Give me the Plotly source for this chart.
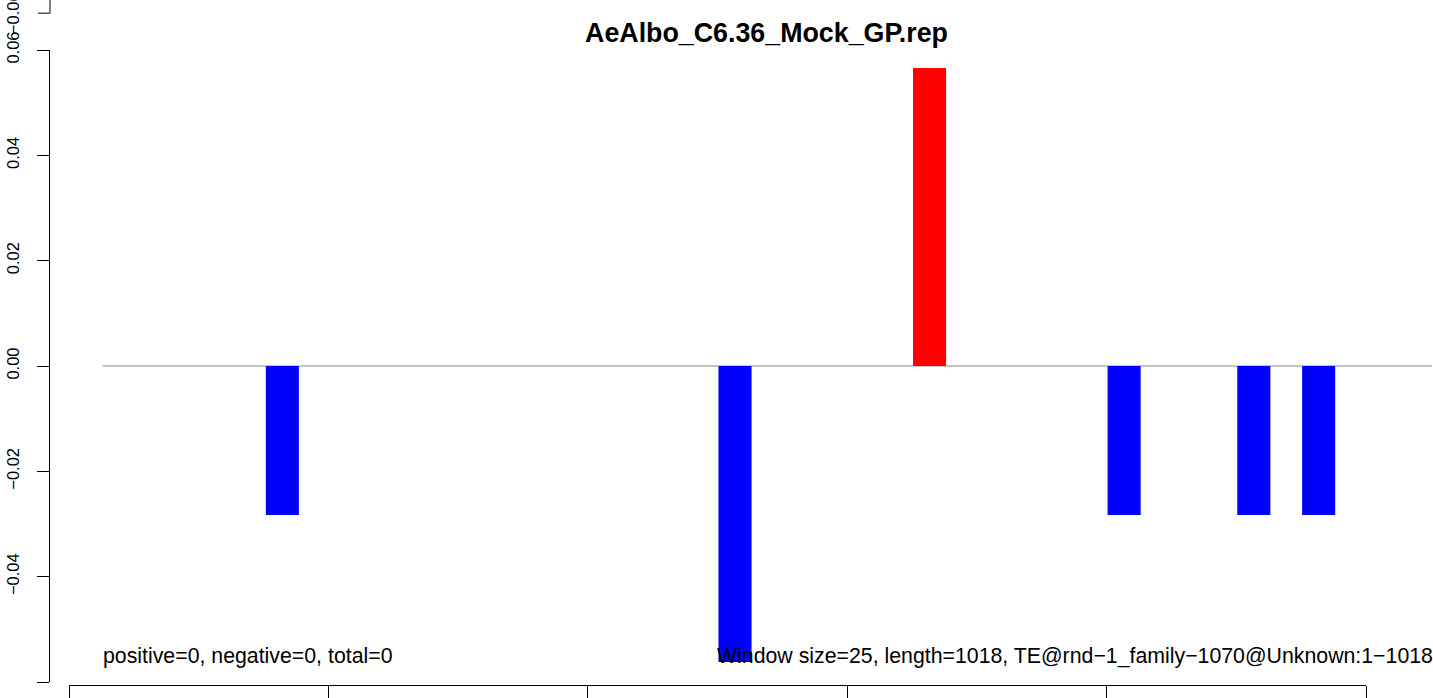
import plotly.graph_objects as go

# ---- data ----
title_text = "AeAlbo_C6.36_Mock_GP.rep"
window_size = 25
window_start = [152, 501, 651, 801, 901, 951]
values = [-0.0283, -0.0562, 0.0566, -0.0283, -0.0283, -0.0283]
y_tick_vals = [-0.06, -0.04, -0.02, 0.00, 0.02, 0.04, 0.06]
y_tick_labels = ["\u22120.06", "\u22120.04", "\u22120.02", "0.00", "0.02", "0.04", "0.06"]
x_tick_vals = [0, 200, 400, 600, 800, 1000]
zero_line_start = 26
zero_line_end = 1051
left_note = "positive=0, negative=0, total=0"
right_note = "Window size=25, length=1018, TE@rnd\u22121_family\u22121070@Unknown:1\u22121018"
upper_panel_tick_label = "\u22120.06"

W, H = 1433, 698
L, R, T, B = 50, 1, 50, 10
PW, PH = W - L - R, H - T - B
FONT = "Liberation Sans, Arial, Helvetica, sans-serif"


def px_x(p):
    return (p - L) / PW


def px_y(p):
    return (H - B - p) / PH


colors = ["#FF0000" if v > 0 else "#0000FF" for v in values]
centers = [s + window_size / 2 for s in window_start]

fig = go.Figure()
fig.add_trace(go.Bar(
    x=centers, y=values, width=window_size + 0.5,
    marker=dict(color=colors, line=dict(width=0)),
    showlegend=False, hoverinfo="skip",
))
# carrier trace for the bottom tick axis
fig.add_trace(go.Scatter(
    x=[x_tick_vals[0], x_tick_vals[-1]], y=[0, 0], xaxis="x2", yaxis="y",
    mode="markers", marker=dict(opacity=0), showlegend=False, hoverinfo="skip",
))

# x scale: px = 69 + 1.297 * bp
x_lo = (L - 69) / 1.297
x_hi = (W - R - 69) / 1.297

fig.update_layout(
    width=W, height=H, autosize=False,
    margin=dict(l=L, r=R, t=T, b=B, pad=0),
    paper_bgcolor="white", plot_bgcolor="rgba(0,0,0,0)",
    font=dict(family=FONT, color="black"),
    showlegend=False,
    xaxis=dict(range=[x_lo, x_hi], visible=False, showgrid=False, zeroline=False,
               domain=[0, 1]),
    xaxis2=dict(
        domain=[px_x(69), px_x(1366)], range=[x_tick_vals[0], x_tick_vals[-1]],
        anchor="free", position=0,
        tickvals=x_tick_vals, showticklabels=False,
        ticks="outside", ticklen=12, tickcolor="black", tickwidth=1,
        showline=True, linecolor="black", linewidth=1,
        showgrid=False, zeroline=False,
    ),
    yaxis=dict(
        domain=[px_y(685), 1], range=[-0.06, 0.06],
        tickvals=y_tick_vals, ticktext=y_tick_labels, tickangle=-90,
        ticks="outside", ticklen=12, tickcolor="black", tickwidth=1,
        showline=True, linecolor="black", linewidth=1,
        showgrid=False, zeroline=False,
        tickfont=dict(size=16.5, family=FONT, color="black"),
        ticklabelstandoff=11,
    ),
    title=dict(
        text="<b>" + title_text + "</b>",
        x=766.5 / W, xref="container", xanchor="center",
        y=1 - 33 / H, yref="container", yanchor="middle",
        font=dict(size=26.8, family=FONT, color="black"),
    ),
)

# zero line
fig.add_shape(type="line", xref="x", yref="y",
              x0=zero_line_start, x1=zero_line_end, y0=0, y1=0,
              line=dict(color="#8c8c8c", width=1), layer="below")

# fragment of the panel above (its lowest y tick)
fig.add_shape(type="line", xref="paper", yref="paper",
              x0=0, x1=0, y0=px_y(13), y1=px_y(-5),
              line=dict(color="black", width=1))
fig.add_shape(type="line", xref="paper", yref="paper",
              x0=px_x(38), x1=0, y0=px_y(13), y1=px_y(13),
              line=dict(color="black", width=1))
fig.add_annotation(text=upper_panel_tick_label, xref="paper", yref="paper",
                   x=px_x(13), y=px_y(13), xanchor="center", yanchor="middle",
                   textangle=-90, showarrow=False,
                   font=dict(size=16.5, family=FONT, color="black"))

# footer notes
fig.add_annotation(text=left_note, xref="paper", yref="paper",
                   x=px_x(101), y=px_y(658.5), xanchor="left", yanchor="middle",
                   showarrow=False, font=dict(size=21.3, family=FONT, color="black"))
fig.add_annotation(text=right_note, xref="paper", yref="paper",
                   x=px_x(1435), y=px_y(658.5), xanchor="right", yanchor="middle",
                   showarrow=False, font=dict(size=21.3, family=FONT, color="black"))

fig.write_html("out.html",
               config={"displayModeBar": False},
               post_script="document.body.style.margin='0px';document.body.style.padding='0px';")
